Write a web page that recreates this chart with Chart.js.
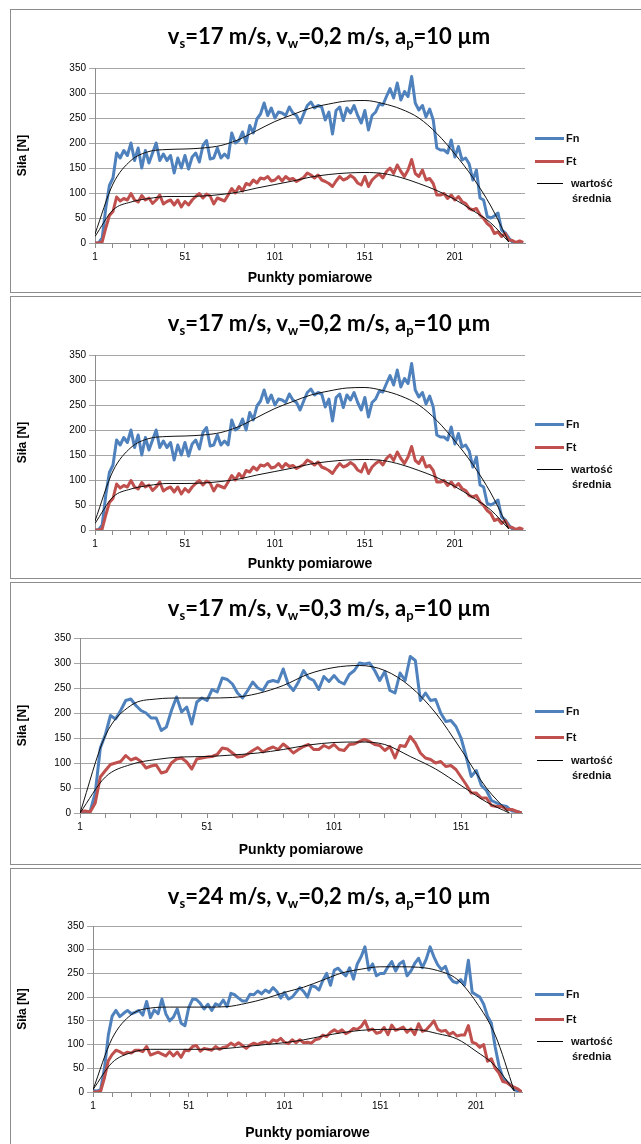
<!DOCTYPE html>
<html>
<head>
<meta charset="utf-8">
<script src="https://cdn.jsdelivr.net/npm/chart.js@4.4.0/dist/chart.umd.min.js"></script>
<style>
  body { margin: 0; background: #fff; width: 641px; height: 1144px; overflow: hidden; position: relative;
         font-family: "Liberation Sans", Arial, sans-serif; }
  .panel { position: absolute; left: 10px; width: 660px; border: 1px solid #8c8c8c; background: #fff; }
  .panel canvas { position: absolute; left: 0; top: 0; }
  .title { position: absolute; left: 0; width: 636px; text-align: center; line-height: 26px;
           font-family: Lato, sans-serif; font-weight: bold; font-size: 22px; color: #000; }
  .title sub { font-size: 13px; vertical-align: -4px; line-height: 0; }
  .ln { position: absolute; height: 3px; }
  .lt { position: absolute; font-weight: bold; font-size: 11px; line-height: 14px; color: #111; }
</style>
</head>
<body>

<script>
// categories (measurement point numbers) for the mean curves
const meanX1 = [1, 11, 21, 31, 41, 51, 61, 71, 81, 91, 101, 111, 121, 131, 141, 151, 161, 171, 181, 191, 201, 211, 221, 231];
const meanX3 = [1, 11, 21, 31, 41, 51, 61, 71, 81, 91, 101, 111, 121, 131, 141, 151, 161, 170];
const meanX4 = [1, 11, 21, 31, 41, 51, 61, 71, 81, 91, 101, 111, 121, 131, 141, 151, 161, 171, 181, 191, 201, 211, 221];

// vs=17, vw=0,2 (every 2nd point, 1..239)
const fn1 = [
  0, 0, 10, 70, 115, 130, 180, 170, 185, 175,
  200, 165, 190, 150, 185, 160, 180, 200, 165, 178,
  165, 175, 140, 170, 150, 175, 148, 172, 180, 162,
  195, 205, 168, 170, 190, 170, 178, 170, 220, 200,
  205, 222, 200, 235, 220, 248, 258, 280, 255, 270,
  250, 262, 260, 255, 272, 260, 255, 240, 258, 275,
  282, 270, 275, 272, 246, 262, 218, 265, 272, 245,
  270, 260, 275, 255, 240, 265, 226, 255, 262, 278,
  276, 293, 309, 290, 320, 286, 303, 293, 333, 280,
  266, 275, 252, 268, 246, 190, 186, 186, 180, 206,
  172, 193, 166, 170, 158, 126, 146, 90, 86, 53,
  50, 54, 60, 26, 20, 10, 2, 0, 0, 0
];
const ft1 = [
  0, 0, 2, 30, 55, 63, 92, 84, 89, 86,
  99, 86, 82, 95, 86, 90, 79, 86, 96, 78,
  83, 86, 76, 86, 72, 83, 76, 86, 93, 99,
  90, 98, 94, 78, 90, 87, 84, 96, 109, 100,
  113, 104, 119, 116, 126, 120, 130, 128, 133, 124,
  126, 133, 124, 133, 127, 129, 123, 127, 131, 140,
  136, 130, 136, 126, 123, 119, 113, 124, 133, 126,
  129, 135, 130, 120, 116, 133, 113, 126, 133, 138,
  130, 143, 150, 139, 156, 143, 133, 146, 167, 139,
  133, 146, 126, 129, 119, 96, 96, 99, 89, 96,
  86, 93, 83, 79, 69, 66, 69, 56, 49, 39,
  33, 19, 22, 13, 19, 6, 5, 1, 4, 1
];
const fnMean1 = [18, 118, 165, 183, 187, 188, 190, 195, 207, 225, 243, 257, 270, 278, 284, 285, 279, 268, 250, 219, 178, 131, 74, 2];
const ftMean1 = [13, 66, 82, 89, 93, 93, 94, 97, 102, 110, 117, 124, 132, 137, 140, 141, 139, 131, 119, 105, 87, 65, 40, 2];

// vs=17, vw=0,3 (every 2nd point, 1..175)
const fn3 = [
  3, 2, 3, 40, 130, 157, 195, 188, 205, 225,
  228, 215, 205, 200, 190, 190, 165, 172, 205, 232,
  202, 212, 178, 222, 230, 225, 247, 242, 270, 267,
  258, 240, 230, 245, 262, 250, 245, 262, 265, 262,
  288, 257, 245, 262, 285, 270, 265, 247, 273, 263,
  275, 263, 258, 277, 285, 300, 298, 300, 285, 265,
  283, 245, 240, 280, 265, 313, 305, 225, 240, 225,
  227, 200, 183, 185, 173, 150, 113, 73, 85, 55,
  45, 25, 20, 15, 13, 4, 3, 0
];
const ft3 = [
  3, 4, 2, 20, 72, 85, 97, 100, 103, 115,
  106, 110, 103, 90, 94, 96, 80, 83, 100, 108,
  110, 102, 88, 108, 110, 112, 113, 117, 130, 128,
  120, 112, 113, 118, 125, 131, 122, 128, 132, 127,
  138, 130, 120, 127, 133, 137, 127, 127, 135, 130,
  137, 127, 125, 137, 138, 143, 147, 143, 137, 135,
  125, 133, 110, 135, 133, 153, 140, 120, 110, 107,
  100, 103, 93, 95, 87, 72, 57, 40, 40, 30,
  30, 15, 13, 13, 7, 7, 3, 0
];
const fnMean3 = [0, 155, 215, 228, 230, 230, 231, 239, 255, 278, 291, 295, 285, 253, 200, 127, 50, 0];
const ftMean3 = [0, 72, 97, 107, 112, 113, 116, 120, 127, 136, 141, 142, 137, 113, 88, 55, 22, 0];

// vs=24, vw=0,2 (every 2nd point, 1..225)
const fn4 = [
  3, 2, 5, 50, 120, 160, 172, 159, 166, 172,
  165, 168, 172, 162, 191, 157, 173, 165, 196, 165,
  150, 158, 175, 145, 140, 178, 196, 195, 187, 175,
  185, 172, 186, 182, 194, 180, 208, 205, 198, 192,
  192, 206, 205, 213, 207, 215, 210, 220, 212, 198,
  210, 196, 200, 210, 220, 212, 200, 224, 222, 215,
  235, 250, 225, 257, 261, 252, 245, 262, 238, 270,
  285, 306, 257, 270, 245, 250, 250, 264, 275, 255,
  270, 276, 245, 255, 271, 282, 262, 280, 306, 285,
  268, 258, 265, 243, 233, 230, 237, 225, 278, 210,
  205, 200, 185, 160, 145, 95, 55, 30, 22, 15,
  5, 2, 0
];
const ft4 = [
  0, 0, 2, 30, 66, 79, 88, 85, 80, 84,
  82, 88, 88, 85, 96, 78, 81, 84, 80, 76,
  85, 76, 84, 73, 88, 87, 96, 98, 86, 92,
  90, 88, 96, 90, 94, 96, 103, 98, 104, 98,
  92, 99, 103, 100, 104, 106, 102, 110, 107, 113,
  105, 102, 110, 104, 110, 104, 105, 103, 110, 112,
  120, 117, 126, 131, 126, 131, 123, 127, 134, 132,
  138, 150, 130, 133, 124, 126, 136, 121, 141, 130,
  133, 137, 126, 133, 121, 144, 128, 131, 140, 150,
  132, 128, 130, 121, 126, 118, 120, 120, 140, 105,
  102, 94, 100, 65, 70, 50, 40, 22, 20, 14,
  10, 6, 0
];
const fnMean4 = [5, 113, 163, 177, 179, 179, 179, 180, 187, 197, 210, 221, 236, 251, 259, 264, 264, 263, 256, 238, 190, 120, 2];
const ftMean4 = [5, 62, 83, 90, 90, 90, 90, 92, 96, 100, 104, 110, 118, 125, 130, 132, 132, 131, 123, 112, 86, 55, 2];

const yTicks = [0, 50, 100, 150, 200, 250, 300, 350];

// panel layout (page px)
const panels = [
  { vs: "17", vw: "0,2", top: 9, h: 282, ch: 282, pl: 95, pr: 525, pt: 68, pb: 243, n: 240, titleY: 13, leg: [128, 151, 173, 188],
    fn: fn1, ft: ft1, mx: meanX1, fnm: fnMean1, ftm: ftMean1 },
  { vs: "17", vw: "0,2", top: 296, h: 281, ch: 281, pl: 95, pr: 525, pt: 355, pb: 530, n: 240, titleY: 13, leg: [127, 150, 172, 187],
    fn: fn1, ft: ft1, mx: meanX1, fnm: fnMean1, ftm: ftMean1 },
  { vs: "17", vw: "0,3", top: 582, h: 281, ch: 281, pl: 80, pr: 522, pt: 638, pb: 813, n: 175, titleY: 12, leg: [128, 154, 177, 192],
    fn: fn3, ft: ft3, mx: meanX3, fnm: fnMean3, ftm: ftMean3 },
  { vs: "24", vw: "0,2", top: 868, h: 300, ch: 278, pl: 93, pr: 522, pt: 926, pb: 1092, n: 225, titleY: 14, leg: [125, 150, 172, 187],
    fn: fn4, ft: ft4, mx: meanX4, fnm: fnMean4, ftm: ftMean4 }
];

const blue = "#4f81bd";
const red = "#c0504d";
const tickFont = { family: "'Liberation Sans', Arial, sans-serif", size: 10 };

function everyOther(values) {
  // points are read at every 2nd measurement point: 1, 3, 5, ...
  return values.map((v, k) => ({ x: 1 + 2 * k, y: v }));
}

function pairs(xs, ys) {
  return xs.map((x, k) => ({ x: x, y: ys[k] }));
}

function buildPanel(p) {
  const box = document.createElement("div");
  box.className = "panel";
  box.style.top = p.top + "px";
  box.style.height = p.h + "px";
  document.body.appendChild(box);

  const canvas = document.createElement("canvas");
  canvas.width = 630;
  canvas.height = p.ch;
  canvas.style.width = "630px";
  canvas.style.height = p.ch + "px";
  box.appendChild(canvas);

  const title = document.createElement("div");
  title.className = "title";
  title.style.top = p.titleY + "px";
  title.innerHTML = "v<sub>s</sub>=" + p.vs + " m/s, v<sub>w</sub>=" + p.vw + " m/s, a<sub>p</sub>=10 µm";
  box.appendChild(title);

  // legend
  const items = [
    { color: blue, y: p.leg[0], text: "Fn" },
    { color: red, y: p.leg[1], text: "Ft" }
  ];
  items.forEach(it => {
    const ln = document.createElement("div");
    ln.className = "ln";
    ln.style.cssText = `left:524px;top:${it.y - 1.5}px;width:29px;height:3px;background:${it.color}`;
    box.appendChild(ln);
    const t = document.createElement("div");
    t.className = "lt";
    t.style.cssText = `left:555px;top:${it.y - 7}px`;
    t.textContent = it.text;
    box.appendChild(t);
  });
  const ln = document.createElement("div");
  ln.className = "ln";
  ln.style.cssText = `left:526px;top:${p.leg[2]}px;width:26px;height:1px;background:#000`;
  box.appendChild(ln);
  const t1 = document.createElement("div");
  t1.className = "lt";
  t1.style.cssText = `left:560px;top:${p.leg[2] - 7}px`;
  t1.textContent = "wartość";
  box.appendChild(t1);
  const t2 = document.createElement("div");
  t2.className = "lt";
  t2.style.cssText = `left:561px;top:${p.leg[3] - 7}px`;
  t2.textContent = "średnia";
  box.appendChild(t2);

  const cTop = p.top + 1;
  const cLeft = 11;
  const yw = p.pl - cLeft;
  const xh = cTop + p.ch - p.pb;

  new Chart(canvas.getContext("2d"), {
    type: "line",
    data: {
      datasets: [
        { label: "Fn", data: everyOther(p.fn), borderColor: blue, borderWidth: 3, pointRadius: 0, tension: 0,
          borderJoinStyle: "round", order: 3 },
        { label: "Ft", data: everyOther(p.ft), borderColor: red, borderWidth: 3, pointRadius: 0, tension: 0,
          borderJoinStyle: "round", order: 2 },
        { label: "wartość średnia", data: pairs(p.mx, p.fnm), borderColor: "#111", borderWidth: 1, pointRadius: 0,
          cubicInterpolationMode: "monotone", order: 1 },
        { label: "wartość średnia Ft", data: pairs(p.mx, p.ftm), borderColor: "#111", borderWidth: 1, pointRadius: 0,
          cubicInterpolationMode: "monotone", order: 0 }
      ]
    },
    options: {
      responsive: false,
      animation: false,
      events: [],
      layout: { padding: { top: p.pt - cTop, right: cLeft + 630 - p.pr, left: 0, bottom: 0 } },
      plugins: { legend: { display: false }, tooltip: { enabled: false } },
      scales: {
        x: {
          type: "linear",
          min: 1,
          max: p.n,
          afterFit: s => { s.height = xh; },
          afterBuildTicks: s => {
            const t = [];
            for (let v = 1; v <= p.n; v += 10) t.push({ value: v });
            s.ticks = t;
          },
          ticks: {
            autoSkip: false, maxRotation: 0, padding: 3, color: "#000", font: tickFont,
            callback: v => ((v - 1) % 50 === 0 ? String(v) : "")
          },
          grid: { drawOnChartArea: false, drawTicks: true, tickLength: 5, color: "#8c8c8c" },
          border: { display: true, color: "#8c8c8c" },
          title: { display: true, text: "Punkty pomiarowe", color: "#000", padding: { top: 0, bottom: 5 },
                   font: { family: "'Liberation Sans', Arial, sans-serif", size: 14, weight: "bold" } }
        },
        y: {
          min: 0,
          max: 350,
          afterFit: s => { s.width = yw; },
          afterBuildTicks: s => { s.ticks = yTicks.map(v => ({ value: v })); },
          ticks: { padding: 3, color: "#000", font: tickFont },
          grid: { color: "#a6a6a6", tickLength: 6 },
          border: { display: true, color: "#8c8c8c" },
          title: { display: true, text: "Siła [N]", color: "#000", padding: { top: 4, bottom: 0 },
                   font: { family: "'Liberation Sans', Arial, sans-serif", size: 12, weight: "bold" } }
        }
      }
    }
  });
}

panels.forEach(buildPanel);
</script>
</body>
</html>
